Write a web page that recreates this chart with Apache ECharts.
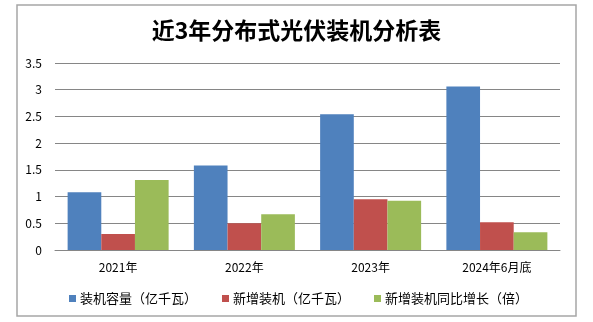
<!DOCTYPE html>
<html><head><meta charset="utf-8">
<script src="https://cdn.jsdelivr.net/npm/echarts@6/dist/echarts.min.js"></script>
<style>html,body{margin:0;padding:0;background:#fff}#c{width:593px;height:322px}</style>
</head><body><div id="c"></div>
<script>
const title = '近3年分布式光伏装机分析表';
const categories = ['2021年', '2022年', '2023年', '2024年6月底'];
const seriesNames = ['装机容量（亿千瓦）', '新增装机（亿千瓦）', '新增装机同比增长（倍）'];
const capacity = [1.08, 1.58, 2.54, 3.06];
const newInstall = [0.30, 0.50, 0.95, 0.52];
const growth = [1.31, 0.67, 0.92, 0.33];
const yTicks = [0, 0.5, 1, 1.5, 2, 2.5, 3, 3.5];
const colors = ['#4F81BD', '#C0504D', '#9BBB59'];
const font = '"Noto Sans CJK SC", "Liberation Sans", sans-serif';
const legendLefts = [64, 217, 369];

const chart = echarts.init(document.getElementById('c'));
chart.setOption({
  animation: false,
  textStyle: {fontFamily: font},
  graphic: [{type: 'rect', shape: {x: 17, y: 5, width: 559, height: 311}, style: {fill: 'none', stroke: '#a6a6a6', lineWidth: 1.5}, silent: true}],
  title: {text: title, left: 'center', top: 14, textStyle: {fontSize: 23, fontWeight: 'bold', color: '#000', fontFamily: font}},
  grid: {left: 55, right: 33, top: 63, bottom: 72},
  legend: seriesNames.map((n, i) => ({
    top: 287, left: legendLefts[i], itemWidth: 7, itemHeight: 7, itemGap: 4, icon: 'rect',
    textStyle: {fontSize: 13, color: '#000', fontFamily: font, padding: [0, 0, 0, -1]},
    data: [n]
  })),
  xAxis: {
    type: 'category', data: categories,
    axisLine: {lineStyle: {color: '#868686', width: 1}},
    axisTick: {show: false},
    axisLabel: {color: '#000', fontSize: 12, margin: 11}
  },
  yAxis: {
    type: 'value', min: yTicks[0], max: yTicks[yTicks.length - 1], interval: 0.5,
    axisLine: {show: false}, axisTick: {show: false},
    splitLine: {lineStyle: {color: '#868686', width: 1}},
    axisLabel: {color: '#000', fontSize: 12, margin: 13}
  },
  series: [
    {name: seriesNames[0], type: 'bar', data: capacity, itemStyle: {color: colors[0]}, barGap: '0%', barCategoryGap: '20%'},
    {name: seriesNames[1], type: 'bar', data: newInstall, itemStyle: {color: colors[1]}, barGap: '0%', barCategoryGap: '20%'},
    {name: seriesNames[2], type: 'bar', data: growth, itemStyle: {color: colors[2]}, barGap: '0%', barCategoryGap: '20%'}
  ]
});
</script></body></html>
